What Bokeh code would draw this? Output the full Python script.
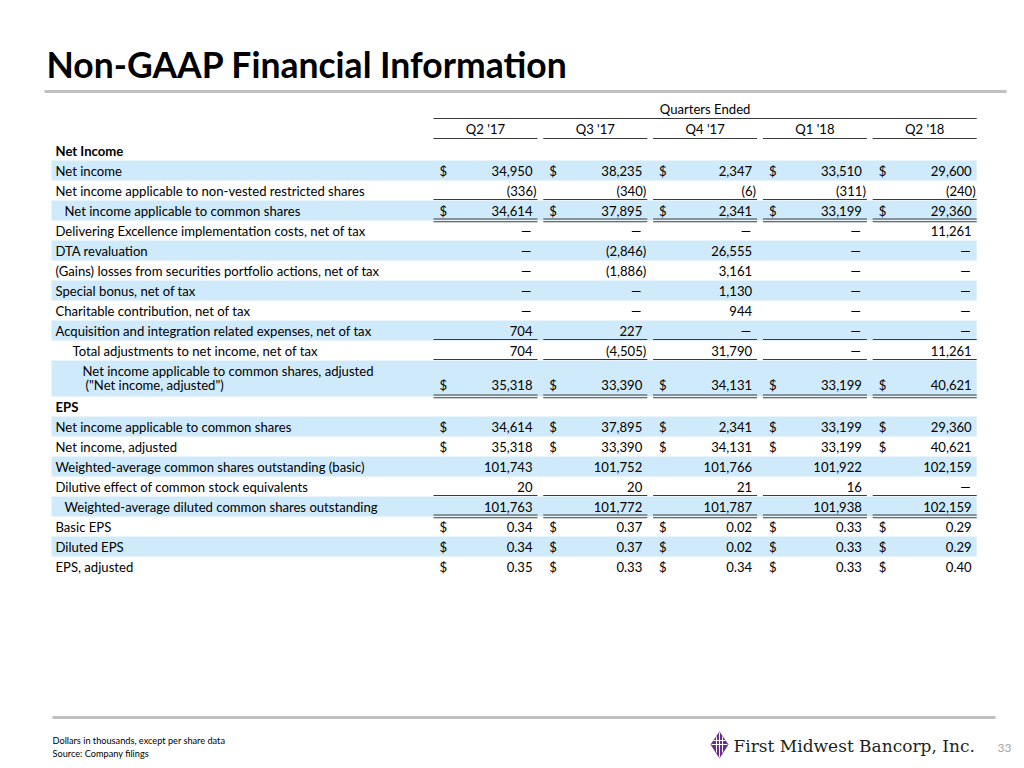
from bokeh.plotting import figure
from bokeh.models import Range1d, ColumnDataSource
from bokeh.core.properties import value
from bokeh.embed import file_html
from bokeh.resources import INLINE

# ---------------- data ----------------
title = "Non-GAAP Financial Information"
header_group = "Quarters Ended"
quarters = ["Q2 '17", "Q3 '17", "Q4 '17", "Q1 '18", "Q2 '18"]

net_income = [34950, 38235, 2347, 33510, 29600]
nonvested = [-336, -340, -6, -311, -240]
ni_common = [34614, 37895, 2341, 33199, 29360]
delivering_excellence = [None, None, None, None, 11261]
dta_revaluation = [None, -2846, 26555, None, None]
securities_actions = [None, -1886, 3161, None, None]
special_bonus = [None, None, 1130, None, None]
charitable = [None, None, 944, None, None]
acquisition = [704, 227, None, None, None]
total_adjustments = [704, -4505, 31790, None, 11261]
ni_adjusted = [35318, 33390, 34131, 33199, 40621]
wavg_basic = [101743, 101752, 101766, 101922, 102159]
dilutive = [20, 20, 21, 16, None]
wavg_diluted = [101763, 101772, 101787, 101938, 102159]
basic_eps = [0.34, 0.37, 0.02, 0.33, 0.29]
diluted_eps = [0.34, 0.37, 0.02, 0.33, 0.29]
eps_adjusted = [0.35, 0.33, 0.34, 0.33, 0.40]

footnotes = ["Dollars in thousands, except per share data", "Source: Company filings"]
company = "First Midwest Bancorp, Inc."
page_number = "33"

# ---------------- layout spec ----------------
# kind, label(s), values, indent, dollar, highlight, rule, decimals
rows = [
    ("section", "Net Income"),
    ("row", "Net income", net_income, 0, True, True, None, 0),
    ("row", "Net income applicable to non-vested restricted shares", nonvested, 0, False, False, "single", 0),
    ("row", "Net income applicable to common shares", ni_common, 9, True, True, "double", 0),
    ("row", "Delivering Excellence implementation costs, net of tax", delivering_excellence, 0, False, False, None, 0),
    ("row", "DTA revaluation", dta_revaluation, 0, False, True, None, 0),
    ("row", "(Gains) losses from securities portfolio actions, net of tax", securities_actions, 0, False, False, None, 0),
    ("row", "Special bonus, net of tax", special_bonus, 0, False, True, None, 0),
    ("row", "Charitable contribution, net of tax", charitable, 0, False, False, None, 0),
    ("row", "Acquisition and integration related expenses, net of tax", acquisition, 0, False, True, "single", 0),
    ("row", "Total adjustments to net income, net of tax", total_adjustments, 17, False, False, "single", 0),
    ("row2", ["Net income applicable to common shares, adjusted", "(\"Net income, adjusted\")"], ni_adjusted, 27, True, True, "double", 0),
    ("section", "EPS"),
    ("row", "Net income applicable to common shares", ni_common, 0, True, True, None, 0),
    ("row", "Net income, adjusted", ni_adjusted, 0, True, False, None, 0),
    ("row", "Weighted-average common shares outstanding (basic)", wavg_basic, 0, False, True, None, 0),
    ("row", "Dilutive effect of common stock equivalents", dilutive, 0, False, False, "single", 0),
    ("row", "Weighted-average diluted common shares outstanding", wavg_diluted, 9, False, True, "double", 0),
    ("row", "Basic EPS", basic_eps, 0, True, False, None, 2),
    ("row", "Diluted EPS", diluted_eps, 0, True, True, None, 2),
    ("row", "EPS, adjusted", eps_adjusted, 0, True, False, None, 2),
]

FONT = "Lato"
FS = "13.1px"
HL = "#cfeafa"
RULE = "#3a3a3a"

col_start = [433 + 109.8 * j for j in range(5)]
col_w = 104
table_left = 51
table_right = col_start[-1] + col_w


def fmt(v, dec):
    if v is None:
        return "\u2014"
    s = f"{abs(v):,.{dec}f}"
    return f"({s})" if v < 0 else s


p = figure(width=1016, height=760, x_range=Range1d(0, 1016), y_range=Range1d(760, 0),
           output_backend="svg", toolbar_location=None, min_border=0)
p.axis.visible = False
p.grid.visible = False
p.outline_line_color = None
p.background_fill_color = "white"

hl = dict(left=[], right=[], top=[], bottom=[])
seg = dict(x0=[], x1=[], y0=[], y1=[], w=[])
lab = dict(x=[], y=[], t=[], weight=[])
num = dict(x=[], y=[], t=[])
dol = dict(x=[], y=[], t=[])


def add_seg(x0, x1, y, w=1.2):
    seg["x0"].append(x0); seg["x1"].append(x1)
    seg["y0"].append(y); seg["y1"].append(y); seg["w"].append(w)


y = 140
for r in rows:
    if r[0] == "section":
        lab["x"].append(55); lab["y"].append(y + 10); lab["t"].append(r[1]); lab["weight"].append("bold")
        y += 20
        continue
    kind, label, vals, indent, dollar, highlight, rule, dec = r
    h = 36 if kind == "row2" else 20
    if highlight:
        hl["left"].append(table_left); hl["right"].append(table_right)
        hl["top"].append(y); hl["bottom"].append(y + h)
    if kind == "row2":
        lab["x"] += [55 + indent, 58 + indent]
        lab["y"] += [y + 10, y + 24]
        lab["t"] += label
        lab["weight"] += ["normal", "normal"]
        vy = y + 24
    else:
        lab["x"].append(55 + indent); lab["y"].append(y + 10); lab["t"].append(label)
        lab["weight"].append("normal")
        vy = y + 10
    for j, v in enumerate(vals):
        s = fmt(v, dec)
        right = col_start[j] + col_w
        if s.endswith(")"):
            xr = right - 1
        elif s == "\u2014":
            xr = right - 6
        else:
            xr = right - 5
        num["x"].append(xr); num["y"].append(vy); num["t"].append(s)
        if dollar:
            dol["x"].append(col_start[j] + 6); dol["y"].append(vy); dol["t"].append("$")
        if rule == "single":
            add_seg(col_start[j], right, y + h - 1)
        elif rule == "double":
            add_seg(col_start[j], right, y + h - 1.5, 1.1)
            add_seg(col_start[j], right, y + h + 1.3, 1.1)
    y += h

p.quad(left="left", right="right", top="top", bottom="bottom", source=ColumnDataSource(hl),
       fill_color=HL, line_color=None)

add_seg(col_start[0], table_right, 118)
for j in range(5):
    add_seg(col_start[j], col_start[j] + col_w, 138)
p.segment(x0="x0", y0="y0", x1="x1", y1="y1", line_width="w", line_color=RULE,
          source=ColumnDataSource(seg))

p.text(x=[(col_start[0] + table_right) / 2], y=[108], text=[header_group], text_align="center",
       text_baseline="middle", text_font=value(FONT), text_font_size=FS, text_color="#000000")
p.text(x=[c + col_w / 2 for c in col_start], y=[128] * 5, text=quarters, text_align="center",
       text_baseline="middle", text_font=value(FONT), text_font_size=FS, text_color="#000000")

p.text(x="x", y="y", text="t", text_font_style="weight", source=ColumnDataSource(lab),
       text_align="left", text_baseline="middle", text_font=value(FONT), text_font_size=FS,
       text_color="#000000")
p.text(x="x", y="y", text="t", source=ColumnDataSource(num), text_align="right",
       text_baseline="middle", text_font=value(FONT), text_font_size=FS, text_color="#000000")
p.text(x="x", y="y", text="t", source=ColumnDataSource(dol), text_align="left",
       text_baseline="middle", text_font=value(FONT), text_font_size=FS, text_color="#000000")

p.text(x=[46], y=[64], text=[title], text_align="left", text_baseline="middle",
       text_font=value(FONT), text_font_size="35.5px", text_font_style="bold", text_color="#000000")
p.segment(x0=[44, 52], x1=[1006, 995], y0=[91, 717], y1=[91, 717], line_width=3,
          line_color="#c0c0c0")

p.text(x=[52, 52], y=[740, 753], text=footnotes, text_align="left", text_baseline="middle",
       text_font=value(FONT), text_font_size="9.2px", text_color="#000000")
p.text(x=[733], y=[745], text=[company], text_align="left", text_baseline="middle",
       text_font=value("DejaVu Serif"), text_font_size="17px", text_color="#231f20")
p.text(x=[1004], y=[747], text=[page_number], text_align="center", text_baseline="middle",
       text_font=value(FONT), text_font_size="12px", text_color="#a6a6a6")

# logo mark
p.patch(x=[719, 728, 719, 710], y=[731, 744, 758, 744], fill_color="#6a2c8c", line_color=None)
p.segment(x0=[711, 719, 713, 716, 722], x1=[727, 719, 725, 716, 722],
          y0=[744, 732, 740, 736, 736], y1=[744, 757, 740, 752, 752],
          line_color="white", line_width=1)

open("out.html", "w").write(file_html(p, INLINE))
